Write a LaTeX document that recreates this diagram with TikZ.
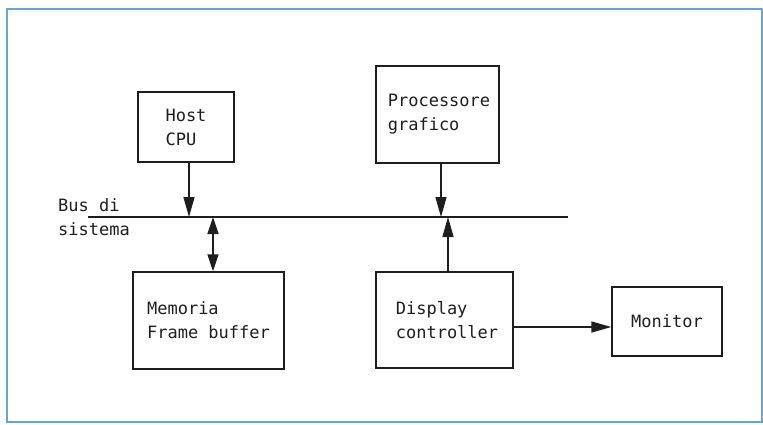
\documentclass[tikz,border=0pt]{standalone}
\usepackage{fontspec}
\newfontfamily\diagfont{DejaVu Sans Mono}
\usetikzlibrary{arrows.meta}
\definecolor{framecol}{RGB}{100,165,215}
\definecolor{inkcol}{RGB}{30,30,30}
\begin{document}
\begin{tikzpicture}[x=1pt,y=-1pt,
  box/.style={draw=inkcol, line width=1.4pt, rectangle, align=left, inner sep=0pt,
    font=\diagfont\fontsize{17pt}{24pt}\selectfont, text=inkcol},
  lbl/.style={align=left, inner sep=0pt, font=\diagfont\fontsize{17pt}{24pt}\selectfont, text=inkcol},
  arr/.style={draw=inkcol, line width=1.4pt, -{Triangle[length=20pt,width=11pt]}},
  darr/.style={draw=inkcol, line width=1.4pt, {Triangle[length=17pt,width=11pt]}-{Triangle[length=17pt,width=11pt]}},
  bus/.style={draw=inkcol, line width=1.5pt}]
\useasboundingbox (0,0) rectangle (763,424);
\draw[framecol, line width=2pt] (7,9) rectangle (762,422);

\node[box, minimum width=96pt, minimum height=70pt] (cpu) at (186,127) {Host\\CPU};
\node[box, minimum width=123pt, minimum height=97pt] (gpu) at (437.5,114.5) {\hspace*{3pt}Processore\\\hspace*{3pt}grafico};
\node[box, minimum width=151pt, minimum height=97pt] (mem) at (208.5,320.5) {Memoria\\Frame buffer};
\node[box, minimum width=137pt, minimum height=96pt] (dc) at (444.5,320) {\hspace*{5pt}Display\\\hspace*{5pt}controller};
\node[box, minimum width=110pt, minimum height=69pt] (mon) at (667,321.5) {Monitor};

\coordinate (busL) at (88,217);
\coordinate (busR) at (568,217);
\draw[bus] (busL) -- (busR);
\node[lbl, anchor=west] (buslbl) at (58,217.5) {Bus di\\sistema};

\draw[arr] ([xshift=3pt]cpu.south) -- ([xshift=3pt]cpu.south |- busL);
\draw[arr] ([xshift=3.5pt]gpu.south) -- ([xshift=3.5pt]gpu.south |- busL);
\draw[darr] ([xshift=4.5pt]mem.north |- busL) -- ([xshift=4.5pt]mem.north);
\draw[arr] ([xshift=3.5pt]dc.north) -- ([xshift=3.5pt]dc.north |- busL);
\draw[arr] ([yshift=-7pt]dc.east) -- ([yshift=-7pt]dc.east -| mon.west);
\end{tikzpicture}
\end{document}
